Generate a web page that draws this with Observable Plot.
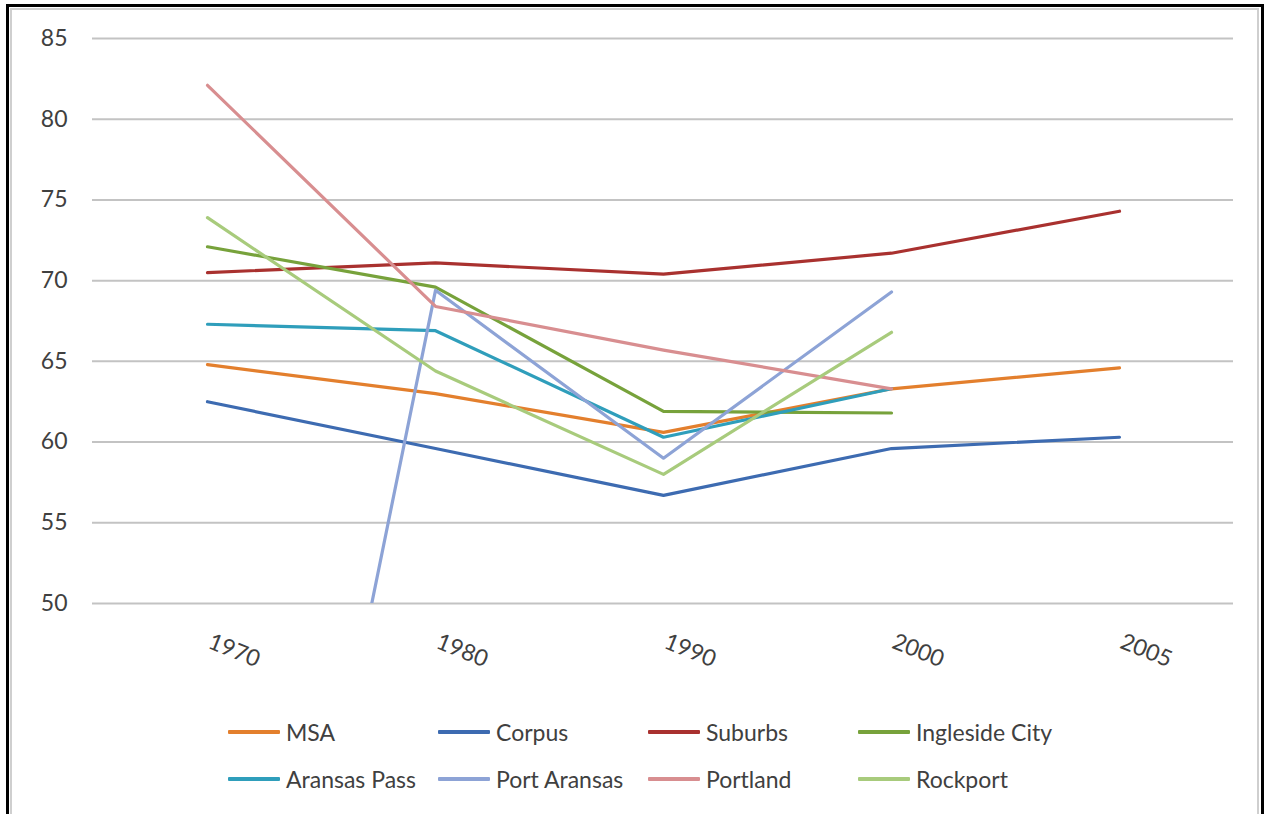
<!DOCTYPE html>
<html>
<head>
<meta charset="utf-8">
<script src="https://cdn.jsdelivr.net/npm/d3@7"></script>
<script src="https://cdn.jsdelivr.net/npm/@observablehq/plot@0.6"></script>
<style>
  body { margin: 0; background: #fff; font-family: Lato, "Open Sans", sans-serif; }
  #wrap { position: relative; width: 1265px; height: 814px; overflow: hidden; background: #fff; }
  #outer { position: absolute; left: 6px; top: 4px; width: 1252px; height: 900px; border: 3px solid #000; border-bottom: none; }
  #inner { position: absolute; left: 10px; top: 8px; width: 1245px; height: 900px; border: 2px solid #cfcfcf; border-bottom: none; }
  #chart { position: absolute; left: 0; top: 0; }
  .leg { position: absolute; display: flex; align-items: center; font-size: 23px; color: #404040; white-space: nowrap; }
  .leg .sw { width: 52px; height: 4px; margin-right: 6px; border-radius: 1px; }
</style>
</head>
<body>
<div id="wrap">
  <div id="outer"></div>
  <div id="inner"></div>
  <div id="chart"></div>
  <div id="legend"></div>
</div>
<script>
const years = ["1970", "1980", "1990", "2000", "2005"];
const yTicks = [50, 55, 60, 65, 70, 75, 80, 85];

const seriesNames = ["MSA", "Corpus", "Suburbs", "Ingleside City", "Aransas Pass", "Port Aransas", "Portland", "Rockport"];
const seriesColors = ["#E37F2D", "#3D6BB1", "#A9312F", "#77A23B", "#2F9EBB", "#8DA3D6", "#D88E90", "#A8CB7C"];

const msa          = [64.8, 63.0, 60.6, 63.3, 64.6];
const corpus       = [62.5, 59.6, 56.7, 59.6, 60.3];
const suburbs      = [70.5, 71.1, 70.4, 71.7, 74.3];
const ingleside    = [72.1, 69.6, 61.9, 61.8, null];
const aransasPass  = [67.3, 66.9, 60.3, 63.3, null];
const portAransas  = [0.0, 69.4, 59.0, 69.3, null];
const portland     = [82.1, 68.4, 65.7, 63.3, null];
const rockport     = [73.9, 64.4, 58.0, 66.8, null];

const seriesValues = [msa, corpus, suburbs, ingleside, aransasPass, portAransas, portland, rockport];

const table = [];
seriesNames.forEach((name, i) => {
  seriesValues[i].forEach((v, j) => {
    if (v !== null) table.push({series: name, year: years[j], value: v});
  });
});

const chart = Plot.plot({
  width: 1265,
  height: 690,
  marginLeft: 92,
  marginRight: 32,
  marginTop: 38,
  marginBottom: 87,
  style: {background: "transparent", fontFamily: "Lato, 'Open Sans', sans-serif"},
  x: {type: "point", domain: years, padding: 0.5, axis: null, label: null},
  y: {domain: [50, 85], axis: null, label: null},
  color: {domain: seriesNames, range: seriesColors},
  marks: [
    Plot.ruleY(yTicks, {stroke: "#c3c3c3", strokeWidth: 2}),
    Plot.axisY({ticks: yTicks, tickSize: 0, tickPadding: 25, fontSize: 23, fill: "#404040", label: null}),
    Plot.line(table, {x: "year", y: "value", z: "series", stroke: "series", strokeWidth: 3.2, clip: true}),
    Plot.text(years, {x: d => d, frameAnchor: "bottom", dy: 54, dx: 24, rotate: 22, fontSize: 23, fill: "#404040"})
  ]
});
document.getElementById("chart").appendChild(chart);

const legend = document.getElementById("legend");
const colX = [228, 438, 648, 858];
const rowY = [732, 779];
seriesNames.forEach((name, i) => {
  const item = document.createElement("div");
  item.className = "leg";
  item.style.left = colX[i % 4] + "px";
  item.style.top = (rowY[Math.floor(i / 4)] - 15) + "px";
  item.style.height = "30px";
  const sw = document.createElement("div");
  sw.className = "sw";
  sw.style.background = seriesColors[i];
  const lab = document.createElement("span");
  lab.textContent = name;
  item.appendChild(sw);
  item.appendChild(lab);
  legend.appendChild(item);
});
</script>
</body>
</html>
